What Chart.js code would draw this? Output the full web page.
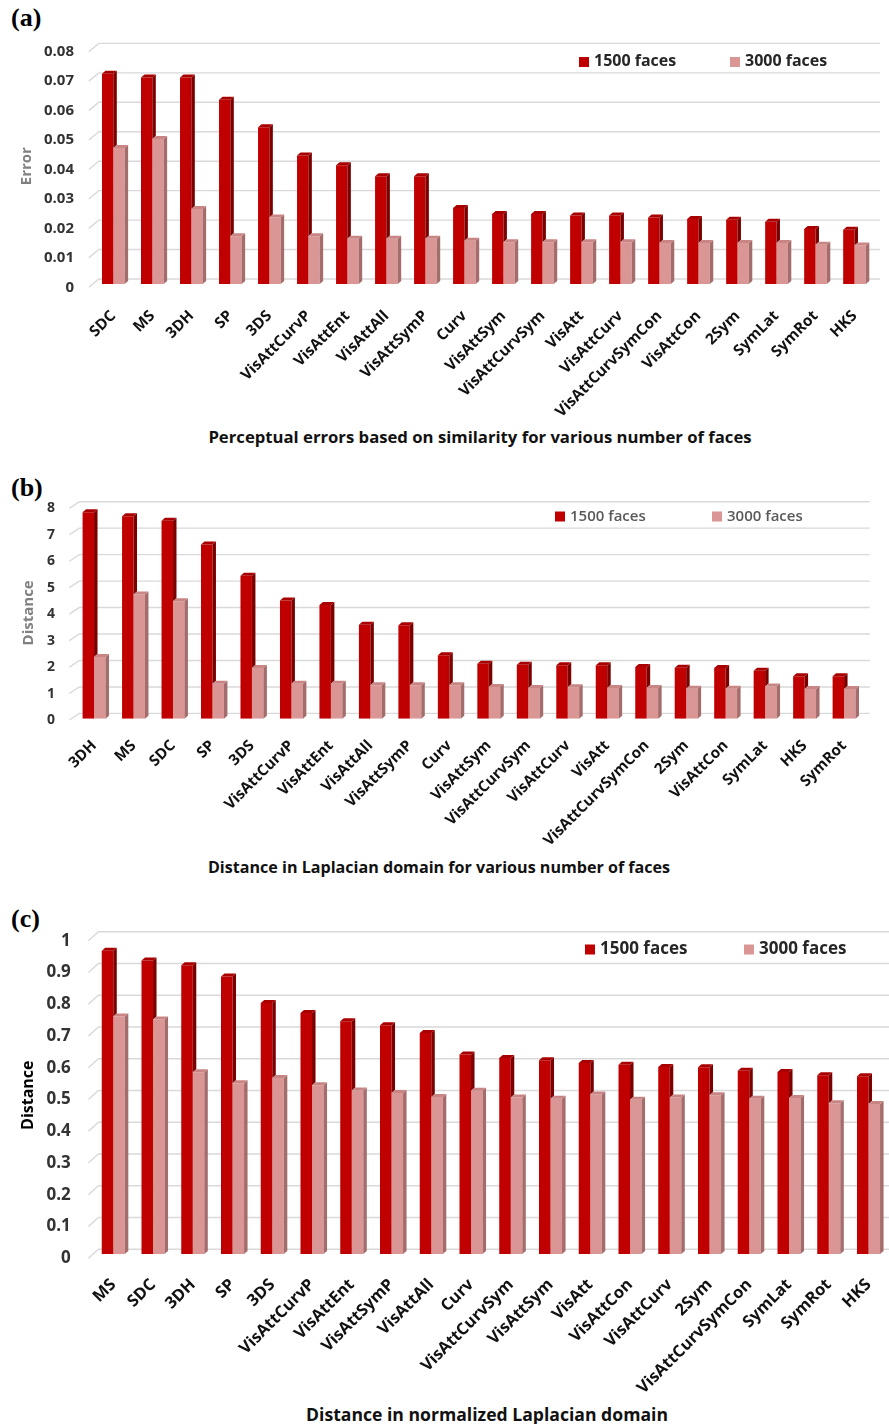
<!DOCTYPE html>
<html>
<head>
<meta charset="utf-8">
<script src="https://cdn.jsdelivr.net/npm/chart.js@4.4.1/dist/chart.umd.min.js"></script>
<style>
  body { margin: 0; background: #fff; }
  #page { position: relative; width: 889px; height: 1424px; overflow: hidden; font-family: "Open Sans", sans-serif; }
  canvas { position: absolute; left: 0; }
  .tag { position: absolute; left: 11px; font-family: "Liberation Serif", serif; font-weight: bold; font-size: 26px; line-height: 26px; color: #000; }
  .caption { position: absolute; font-weight: bold; color: #111; white-space: nowrap; transform: translate(-50%, -50%); line-height: 1; }
  .key { position: absolute; white-space: nowrap; line-height: 1; transform: translateY(-50%); }
  .key i { display: inline-block; width: 10px; height: 10px; margin-right: 5px; vertical-align: -1px; }
</style>
</head>
<body>
<div id="page">
  <div class="tag" style="top:5px">(a)</div>
  <canvas id="chartA" width="889" height="420" style="top:0"></canvas>
  <div class="caption" style="left:480px; top:437px; font-size:16.7px">Perceptual errors based on similarity for various number of faces</div>

  <div class="tag" style="top:475px">(b)</div>
  <canvas id="chartB" width="889" height="360" style="top:490px"></canvas>
  <div class="caption" style="left:439px; top:867px; font-size:16.1px">Distance in Laplacian domain for various number of faces</div>

  <div class="tag" style="top:906px">(c)</div>
  <canvas id="chartC" width="889" height="480" style="top:920px"></canvas>
  <div class="caption" style="left:487px; top:1415px; font-size:17.6px">Distance in normalized Laplacian domain</div>
</div>

<script>
// series names
var seriesNames = ['1500 faces', '3000 faces'];

// (a) perceptual error
var labelsA = ['SDC', 'MS', '3DH', 'SP', '3DS', 'VisAttCurvP', 'VisAttEnt', 'VisAttAll', 'VisAttSymP', 'Curv',
  'VisAttSym', 'VisAttCurvSym', 'VisAtt', 'VisAttCurv', 'VisAttCurvSymCon', 'VisAttCon', '2Sym', 'SymLat', 'SymRot', 'HKS'];
var error1500 = [0.0714, 0.0701, 0.0701, 0.0626, 0.0532, 0.0436, 0.0403, 0.0366, 0.0366, 0.0258,
  0.0238, 0.0238, 0.0233, 0.0233, 0.0226, 0.0221, 0.0218, 0.0211, 0.0187, 0.0184];
var error3000 = [0.0462, 0.0492, 0.0255, 0.0162, 0.0226, 0.0162, 0.0154, 0.0154, 0.0154, 0.0147,
  0.0142, 0.0142, 0.0142, 0.0142, 0.0139, 0.0139, 0.0139, 0.0139, 0.0133, 0.0131];

// (b) Laplacian distance
var labelsB = ['3DH', 'MS', 'SDC', 'SP', '3DS', 'VisAttCurvP', 'VisAttEnt', 'VisAttAll', 'VisAttSymP', 'Curv',
  'VisAttSym', 'VisAttCurvSym', 'VisAttCurv', 'VisAtt', 'VisAttCurvSymCon', '2Sym', 'VisAttCon', 'SymLat', 'HKS', 'SymRot'];
var lap1500 = [7.80, 7.65, 7.48, 6.58, 5.40, 4.47, 4.30, 3.55, 3.53, 2.40,
  2.08, 2.04, 2.02, 2.02, 1.95, 1.93, 1.92, 1.81, 1.60, 1.60];
var lap3000 = [2.33, 4.69, 4.44, 1.32, 1.92, 1.32, 1.32, 1.26, 1.26, 1.26,
  1.20, 1.16, 1.19, 1.16, 1.16, 1.13, 1.13, 1.22, 1.12, 1.12];

// (c) normalized Laplacian distance
var labelsC = ['MS', 'SDC', '3DH', 'SP', '3DS', 'VisAttCurvP', 'VisAttEnt', 'VisAttSymP', 'VisAttAll', 'Curv',
  'VisAttCurvSym', 'VisAttSym', 'VisAtt', 'VisAttCon', 'VisAttCurv', '2Sym', 'VisAttCurvSymCon', 'SymLat', 'SymRot', 'HKS'];
var norm1500 = [0.955, 0.924, 0.909, 0.874, 0.790, 0.759, 0.733, 0.720, 0.696, 0.628,
  0.617, 0.610, 0.601, 0.596, 0.589, 0.588, 0.577, 0.573, 0.563, 0.560];
var norm3000 = [0.748, 0.738, 0.572, 0.538, 0.554, 0.531, 0.515, 0.507, 0.494, 0.514,
  0.493, 0.489, 0.502, 0.486, 0.493, 0.500, 0.489, 0.491, 0.475, 0.472];

var colors = ['#c00000', '#d99694'];
var sideColors = ['#7c0000', '#a46c6b'];
var topColors = ['#a80000', '#c98584'];
var depthX = 3.5, depthY = 3;

// back wall grid lines with a short slanted stub on the left
var wallGrid = {
  id: 'wallGrid',
  beforeDatasetsDraw: function(chart, args, opts) {
    var ctx = chart.ctx, a = chart.chartArea, y = chart.scales.y;
    ctx.save();
    ctx.strokeStyle = '#d9d9d9';
    ctx.lineWidth = 1.4;
    y.ticks.forEach(function(t) {
      var py = y.getPixelForValue(t.value);
      ctx.beginPath();
      ctx.moveTo(a.left - 5, py + opts.front);
      ctx.lineTo(a.left + 5, py - opts.lift);
      ctx.lineTo(a.right + 6, py - opts.lift);
      ctx.stroke();
    });
    ctx.restore();
  }
};

function prism(ctx, bar, stopY, i) {
  var p = bar.getProps(['x', 'y', 'width'], true);
  var l = p.x - p.width / 2, r = p.x + p.width / 2;
  ctx.fillStyle = sideColors[i];
  ctx.beginPath();
  ctx.moveTo(r, p.y);
  ctx.lineTo(r + depthX, p.y - depthY);
  ctx.lineTo(r + depthX, stopY - depthY);
  ctx.lineTo(r, stopY);
  ctx.closePath();
  ctx.fill();
  ctx.fillStyle = topColors[i];
  ctx.beginPath();
  ctx.moveTo(l, p.y);
  ctx.lineTo(l + depthX, p.y - depthY);
  ctx.lineTo(r + depthX, p.y - depthY);
  ctx.lineTo(r, p.y);
  ctx.closePath();
  ctx.fill();
}

// side and top faces of each column
var columns3d = {
  id: 'columns3d',
  afterDatasetsDraw: function(chart) {
    var ctx = chart.ctx;
    var front = chart.getDatasetMeta(0).data;
    var back = chart.getDatasetMeta(1).data;
    ctx.save();
    front.forEach(function(bar, i) {
      var pink = back[i];
      var pinkTop = pink.getProps(['y'], true).y;
      prism(ctx, bar, pinkTop, 0);
      prism(ctx, pink, pink.getProps(['base'], true).base, 1);
    });
    ctx.restore();
  }
};

// fixed plot box: left edge, right padding, top padding, x axis height
function makeChart(id, labels, s1, s2, cfg) {
  var ctx = document.getElementById(id).getContext('2d');
  return new Chart(ctx, {
    type: 'bar',
    data: {
      labels: labels,
      datasets: [
        { label: seriesNames[0], data: s1, backgroundColor: colors[0], borderWidth: 0 },
        { label: seriesNames[1], data: s2, backgroundColor: colors[1], borderWidth: 0 }
      ]
    },
    options: {
      responsive: false,
      animation: false,
      devicePixelRatio: 1,
      categoryPercentage: 0.58,
      barPercentage: 1.0,
      layout: { padding: { left: 0, right: cfg.padRight, top: cfg.padTop, bottom: 0 } },
      plugins: {
        legend: { display: false },
        tooltip: { enabled: false },
        wallGrid: { lift: cfg.lift, front: cfg.front }
      },
      scales: {
        x: {
          grid: { display: false, drawTicks: false },
          border: { display: false },
          ticks: {
            autoSkip: false,
            minRotation: 45,
            maxRotation: 45,
            padding: cfg.xPad,
            color: '#111',
            font: { family: 'Open Sans', weight: 'bold', size: cfg.xFont }
          },
          afterFit: function(s) { s.height = cfg.xHeight; s.paddingLeft = 0; s.paddingRight = 0; }
        },
        y: {
          min: 0,
          max: cfg.max,
          grid: { display: false, drawTicks: false },
          border: { display: false },
          ticks: {
            stepSize: cfg.step,
            padding: cfg.yPad,
            labelOffset: cfg.front,
            color: '#333',
            font: { family: 'Open Sans', weight: 'bold', size: cfg.yFont },
            callback: cfg.fmt
          },
          title: {
            display: true,
            text: cfg.title,
            color: cfg.titleColor,
            font: { family: 'Open Sans', weight: 'bold', size: cfg.titleFont },
            padding: { top: cfg.titlePad, bottom: 0 }
          },
          afterFit: function(s) { s.width = cfg.left; s.paddingTop = 0; s.paddingBottom = 0; }
        }
      }
    },
    plugins: [wallGrid, columns3d]
  });
}

function addKey(top, x1, x2, size, color, weight) {
  var page = document.getElementById('page');
  [x1, x2].forEach(function(x, i) {
    var d = document.createElement('div');
    d.className = 'key';
    d.style.left = x + 'px';
    d.style.top = top + 'px';
    d.style.fontSize = size + 'px';
    d.style.color = color;
    d.style.fontWeight = weight;
    d.innerHTML = '<i style="background:' + colors[i] + '"></i>' + seriesNames[i];
    page.appendChild(d);
  });
}

makeChart('chartA', labelsA, error1500, error3000, {
  left: 93.8, padRight: 15, padTop: 48.4, xHeight: 136, max: 0.08, step: 0.01,
  lift: 5, front: 3.3, yPad: 19.8, xPad: 23, xFont: 15.3, yFont: 15,
  title: 'Error', titleColor: '#808080', titleFont: 15, titlePad: 18,
  fmt: function(v) { return v === 0 ? '0' : v.toFixed(2); }
});

makeChart('chartB', labelsB, lap1500, lap3000, {
  left: 74.3, padRight: 25.2, padTop: 17, xHeight: 131.3, max: 8, step: 1,
  lift: 5.3, front: 1.3, yPad: 19.3, xPad: 18, xFont: 15.2, yFont: 14,
  title: 'Distance', titleColor: '#808080', titleFont: 15, titlePad: 20,
  fmt: function(v) { return String(v); }
});

makeChart('chartC', labelsC, norm1500, norm3000, {
  left: 93.4, padRight: 0.6, padTop: 16.4, xHeight: 146, max: 1, step: 0.1,
  lift: 4.7, front: 4.3, yPad: 22.7, xPad: 21, xFont: 16.5, yFont: 17,
  title: 'Distance', titleColor: '#000', titleFont: 16, titlePad: 19,
  fmt: function(v) { return v === 0 ? '0' : (v === 1 ? '1' : v.toFixed(1)); }
});

addKey(60, 579, 730, 16, '#262626', 'bold');
addKey(515, 555, 712, 15, '#595959', '600');
addKey(947, 585, 744, 17, '#262626', 'bold');
</script>
</body>
</html>
